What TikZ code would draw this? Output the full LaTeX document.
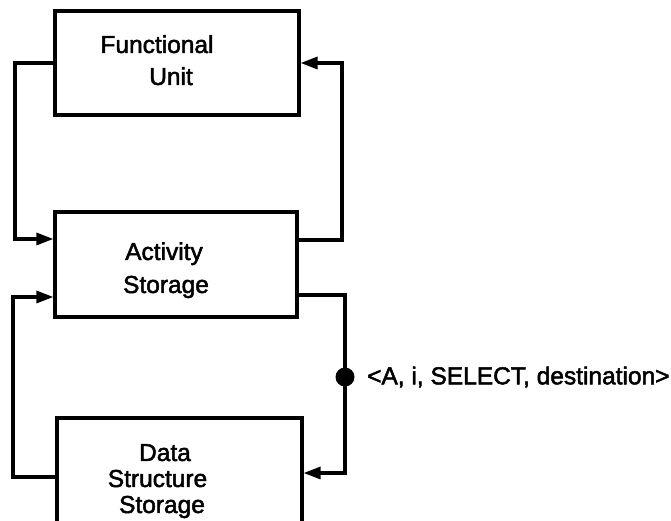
\documentclass[tikz,border=0pt]{standalone}
\usepackage{fontspec}
\setmainfont{Liberation Sans}
\newfontfamily\lblfont{Liberation Sans}[FakeBold=2]
\usetikzlibrary{arrows.meta}

\tikzset{
  unitbox/.style={draw, line width=3.2pt, rectangle, inner sep=0pt},
  wire/.style={line width=3.2pt},
  feed/.style={wire, -{Triangle[length=17pt,width=12pt]}},
  txt/.style={anchor=base, inner sep=0pt, font=\lblfont\fontsize{24.5}{28}\selectfont},
}

\begin{document}
\begin{tikzpicture}[x=1pt, y=1pt]
  \useasboundingbox (0,0) rectangle (671,521);
  \clip (0,0) rectangle (671,521);

  % the three units
  \node[unitbox, minimum width=244pt, minimum height=104pt] (fu)  at (177,458) {};
  \node[unitbox, minimum width=242pt, minimum height=105pt] (as)  at (176,256.5) {};
  \node[unitbox, minimum width=245pt, minimum height=120pt] (dss) at (179.5,43) {};

  % box captions
  \node[txt] (fu1)  at (157,468) {Functional};
  \node[txt] (fu2)  at (171,436) {Unit};
  \node[txt] (as1)  at (164,261) {Activity};
  \node[txt] (as2)  at (166,228) {Storage};
  \node[txt] (ds1)  at (165,60)  {Data};
  \node[txt] (ds2)  at (157.5,34) {Structure};
  \node[txt] (ds3)  at (162,8)   {Storage};

  % routing points of the loops
  \coordinate (fuL) at (15,0);
  \coordinate (asR) at (342,0);
  \coordinate (dsL) at (13,0);
  \coordinate (selR) at (345,0);

  % functional unit <-> activity storage
  \draw[feed] (fu.west) -- (fu.west -| fuL) |- ([yshift=25.5pt]as.west);
  \draw[feed] ([yshift=24.5pt]as.east) -- ([yshift=24.5pt]as.east -| asR) |- (fu.east);

  % data structure storage <-> activity storage
  \draw[feed] ([yshift=1pt]dss.west) -- ([yshift=1pt]dss.west -| dsL) |- ([yshift=-32.5pt]as.west);
  \draw[feed] ([yshift=-30.5pt]as.east) -- ([yshift=-30.5pt]as.east -| selR) |- ([yshift=5pt]dss.east);

  % token on the select line
  \node[circle, fill, inner sep=0pt, minimum size=19pt] (tok) at (345,144) {};
  \node[txt, anchor=west] (lbl) at (367,144) {<A, i, SELECT, destination>};
\end{tikzpicture}
\end{document}
